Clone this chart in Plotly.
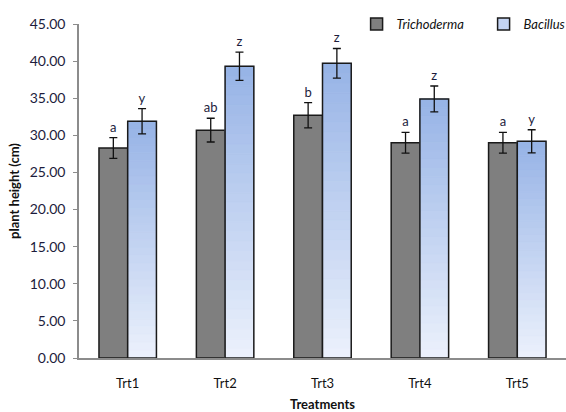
import plotly.graph_objects as go

categories = ["Trt1", "Trt2", "Trt3", "Trt4", "Trt5"]
trichoderma = [28.3, 30.7, 32.7, 29.0, 29.0]
trichoderma_err = [1.4, 1.6, 1.7, 1.4, 1.4]
trichoderma_letters = ["a", "ab", "b", "a", "a"]
bacillus = [31.9, 39.3, 39.7, 34.9, 29.2]
bacillus_err = [1.7, 1.9, 2.0, 1.75, 1.55]
bacillus_letters = ["y", "z", "z", "z", "y"]

FONT = "Lato"
TXT = "#1c1c3c"
N_SEG = 30
top_rgb = (150, 179, 230)
bot_rgb = (236, 241, 252)

fig = go.Figure()

# Trichoderma bars
fig.add_trace(go.Bar(
    x=categories, y=trichoderma, name="<i>Trichoderma</i>", offsetgroup="tri",
    marker=dict(color="#7f7f7f", line=dict(color="#1a1a1a", width=1.5)),
    error_y=dict(type="data", array=trichoderma_err, color="#111111", thickness=1.3, width=4),
    hoverinfo="skip",
))
# letters above Trichoderma error bars
fig.add_trace(go.Bar(
    x=categories, y=[v + e for v, e in zip(trichoderma, trichoderma_err)],
    offsetgroup="tri", showlegend=False, text=trichoderma_letters, textposition="outside",
    textfont=dict(family=FONT, size=13, color=TXT), cliponaxis=False,
    marker=dict(color="rgba(0,0,0,0)", line=dict(width=0)), hoverinfo="skip",
))

# Bacillus gradient segments
for k in range(N_SEG):
    f = (k + 0.5) / N_SEG
    c = tuple(round(bot_rgb[i] + (top_rgb[i] - bot_rgb[i]) * f) for i in range(3))
    col = "rgb(%d,%d,%d)" % c
    fig.add_trace(go.Bar(
        x=categories, y=[v / N_SEG for v in bacillus], base=[v * k / N_SEG for v in bacillus],
        offsetgroup="bac", showlegend=False,
        marker=dict(color=col, line=dict(color=col, width=0.8)), hoverinfo="skip",
    ))
# Bacillus outline + error bars
fig.add_trace(go.Bar(
    x=categories, y=bacillus, offsetgroup="bac", showlegend=False,
    marker=dict(color="rgba(0,0,0,0)", line=dict(color="#1a1a1a", width=1.5)),
    error_y=dict(type="data", array=bacillus_err, color="#111111", thickness=1.3, width=4),
    hoverinfo="skip",
))
# legend entry for Bacillus
fig.add_trace(go.Bar(
    x=[None], y=[None], name="<i>Bacillus</i>", offsetgroup="bac",
    marker=dict(color="#c4d4f3", line=dict(color="#1a1a1a", width=1.5)),
))
# letters above Bacillus error bars
fig.add_trace(go.Bar(
    x=categories, y=[v + e for v, e in zip(bacillus, bacillus_err)],
    offsetgroup="bac", showlegend=False, text=bacillus_letters, textposition="outside",
    textfont=dict(family=FONT, size=13, color=TXT), cliponaxis=False,
    marker=dict(color="rgba(0,0,0,0)", line=dict(width=0)), hoverinfo="skip",
))

fig.update_layout(
    width=566, height=412,
    margin=dict(l=79, r=0, t=24, b=54, autoexpand=False),
    paper_bgcolor="white", plot_bgcolor="white",
    barmode="group", bargap=0.41, bargroupgap=0,
    font=dict(family=FONT, size=13, color=TXT),
    showlegend=True,
    legend=dict(orientation="h", x=0.57, xanchor="left", y=1.0, yanchor="middle",
                font=dict(family=FONT, size=13, color="#111111"),
                itemwidth=30, entrywidth=82, tracegroupgap=0, bgcolor="rgba(0,0,0,0)"),
    xaxis=dict(showline=True, linecolor="#8c8c8c", linewidth=1.5, ticks="", automargin=False,
               ticklabelstandoff=13,
               tickfont=dict(family=FONT, size=13, color="#111111"),
               title=dict(text="<b>Treatments</b>", font=dict(family=FONT, size=13, color="#111111"),
                          standoff=11)),
    yaxis=dict(range=[0, 45], dtick=5, tickformat=".2f", showgrid=False, zeroline=False,
               showline=True, linecolor="#8c8c8c", linewidth=1.5, automargin=False,
               ticks="outside", ticklen=4, tickcolor="#8c8c8c", tickwidth=1.2,
               ticklabelstandoff=5,
               tickfont=dict(family=FONT, size=14, color=TXT),
               title=dict(text="<b>plant height (cm)</b>", font=dict(family=FONT, size=13, color="#111111"),
                          standoff=7)),
)

fig.write_html("out.html", config={"displayModeBar": False},
               post_script="document.body.style.margin='0';")
